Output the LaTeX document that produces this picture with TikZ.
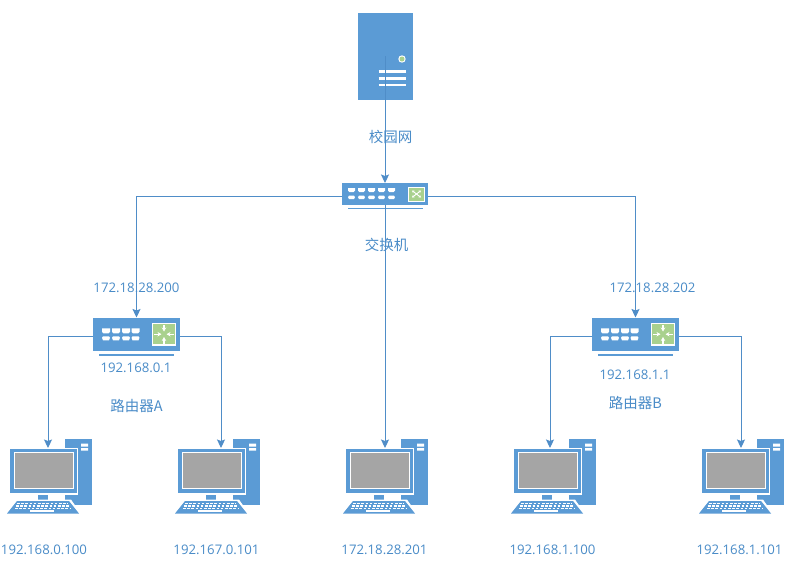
\documentclass[tikz,border=0pt]{standalone}
\usepackage{fontspec}
\setmainfont{Open Sans}
\newfontfamily\cjk{Noto Sans CJK SC}
\usetikzlibrary{arrows.meta,calc}
\definecolor{blu}{HTML}{5B9BD5}
\definecolor{lin}{HTML}{4F8DC8}
\definecolor{grn}{HTML}{A9D18E}
\definecolor{gry}{HTML}{A5A5A5}
\definecolor{txt}{HTML}{4A8CC8}
\tikzset{
  x=1pt,y=-1pt,
  box/.style={fill=blu,draw=none,inner sep=0pt,outer sep=0pt,rectangle},
  wire/.style={draw=lin,line width=0.9pt},
  tip/.style={wire,-{Stealth[length=8.5pt,width=8pt,inset=1.5pt]}},
  lab/.style={text=txt,font=\fontsize{13.2}{15}\selectfont,inner sep=0pt},
  zh/.style={text=txt,font=\fontsize{14.5}{16}\selectfont\cjk,inner sep=0pt},
  pics/pc/.style={code={
    \fill[blu] (65,439) rectangle (92,505);
    \fill[white] (81,443.5) rectangle (88,446.5) (81,448) rectangle (88,450.5);
    \fill[white] (8,447.5) rectangle (78,494.5);
    \fill[blu] (10,449) rectangle (76.5,493);
    \fill[white] (13.5,452) rectangle (73.5,488.5);
    \fill[gry] (14.5,453) rectangle (72.5,487.5);
    \fill[blu] (38,494.5) rectangle (48,500.5);
    \fill[blu] (65,494.5) rectangle (77,500);
    \fill[white] (15,499.5) -- (71,499.5) -- (81,514) -- (5,514) -- cycle;
    \fill[blu] (17,501) -- (69,501) -- (79,513.5) -- (7,513.5) -- cycle;
    \foreach \yy/\xa/\xb in {503.5/17/68,506/16/69,508.3/15/71}{
      \draw[white,line width=1.3pt,dash pattern=on 2.6pt off 1.6pt] (\xa,\yy) -- (\xb,\yy);}
    \draw[white,line width=1.6pt] (30,510.8) -- (54,510.8);
  }},
  pics/rport/.style={code={
    \fill[white] (0,0) -- (8,0) -- (8,3.5) -- (6.5,5) -- (1.5,5) -- (0,3.5) -- cycle;
    \fill[white] (1,8) -- (7,8) -- (8,9.5) -- (7,12) -- (1,12) -- (0,9.5) -- cycle;
  }},
  pics/sport/.style={code={
    \fill[white] (0,0) -- (7,0) -- (7,2.5) -- (5.5,4) -- (1.5,4) -- (0,2.5) -- cycle;
    \fill[white] (1,7.5) -- (6,7.5) -- (7,9) -- (6,11) -- (1,11) -- (0,9) -- cycle;
  }},
  pics/rgreen/.style={code={
    \fill[white] (0,0) rectangle (24,22.5);
    \fill[grn] (1.2,1.2) rectangle (22.8,21.3);
    \begin{scope}[white,line width=1.2pt,-{Stealth[length=4pt,width=4.5pt]}]
      \draw (12,2) -- (12,8.5);
      \draw (12,20.5) -- (12,14);
      \draw (2,11.2) -- (9.5,11.2);
      \draw (22,11.2) -- (14.5,11.2);
    \end{scope}
  }},
}
\begin{document}
\begin{tikzpicture}
\useasboundingbox (0,0) rectangle (795,576);
\fill[white] (0,0) rectangle (795,576);

% server
\node[box,minimum width=55pt,minimum height=87pt] (server) at (385.5,56.5) {};
\fill[white] (402,59) circle (3.7pt);
\fill[grn] (402,59) circle (2.5pt);
\foreach \yy in {71.5,78.5,85}{\draw[white,line width=2.3pt] (378.5,\yy) -- (405.5,\yy);}
\coordinate (srvout) at (385,56);

% switch
\node[box,minimum width=86pt,minimum height=22pt] (switch) at (385,194) {};
\fill[blu] (348,207.6) rectangle (423,209.3);
\foreach \xx in {348,358,368,378,388}{\pic at (\xx,188.2) {sport};}
\fill[white] (408,186.5) rectangle (425,201.5);
\fill[grn] (409,187.5) rectangle (424,200.5);
\draw[white,line width=0.9pt,{Stealth[length=2.5pt,width=3pt]}-{Stealth[length=2.5pt,width=3pt]}] (412,190.5) -- (421,197.5);
\draw[white,line width=0.9pt,{Stealth[length=2.5pt,width=3pt]}-{Stealth[length=2.5pt,width=3pt]}] (421,190.5) -- (412,197.5);
\coordinate (swl) at (342,196);
\coordinate (swr) at (428,196);

% routers
\node[box,minimum width=87pt,minimum height=33pt] (routerA) at (136.5,334) {};
\fill[blu] (99,354) rectangle (174,355.5);
\foreach \xx in {102,112,122,131.5}{\pic at (\xx,328.3) {rport};}
\pic at (152,323) {rgreen};
\coordinate (al) at (93,336);
\coordinate (ar) at (180,336);

\node[box,minimum width=87pt,minimum height=33pt] (routerB) at (635.5,334) {};
\fill[blu] (598,354) rectangle (673,355.5);
\foreach \xx in {601,611,621,630.5}{\pic at (\xx,328.3) {rport};}
\pic at (651,323) {rgreen};
\coordinate (bl) at (592,336);
\coordinate (br) at (679,336);

% computers
\pic at (0,0) {pc};
\pic at (168,0) {pc};
\pic at (336,0) {pc};
\pic at (504,0) {pc};
\pic at (692,0) {pc};
\coordinate (in1) at (48,448);
\coordinate (in2) at (221,448);
\coordinate (in3) at (385,448);
\coordinate (in4) at (550,448);
\coordinate (in5) at (741,448);

% connectors
\draw[tip] (srvout) -- (switch.north -| srvout);
\draw[tip] (swl) -| (routerA.north);
\draw[tip] (swr) -| (routerB.north);
\draw[tip] (switch.south -| in3) -- (in3);
\draw[tip] (al) -| (in1);
\draw[tip] (ar) -| (in2);
\draw[tip] (bl) -| (in4);
\draw[tip] (br) -| (in5);

% labels
\node[zh] (l1) at (390.5,136.5) {校园网};
\node[zh] (l2) at (386.5,244.5) {交换机};
\node[lab] (l3) at (136.5,288) {172.18.28.200};
\node[lab] (l4) at (652.5,288) {172.18.28.202};
\node[lab] (l5) at (136,368) {192.168.0.1};
\node[zh] (l6) at (136.5,405.5) {路由器A};
\node[lab] (l7) at (635,375) {192.168.1.1};
\node[zh] (l8) at (635.5,402.5) {路由器B};
\node[lab] (p1) at (44,550) {192.168.0.100};
\node[lab] (p2) at (216.5,550) {192.167.0.101};
\node[lab] (p3) at (384.5,550) {172.18.28.201};
\node[lab] (p4) at (552.5,550) {192.168.1.100};
\node[lab] (p5) at (739.5,550) {192.168.1.101};
\end{tikzpicture}
\end{document}
